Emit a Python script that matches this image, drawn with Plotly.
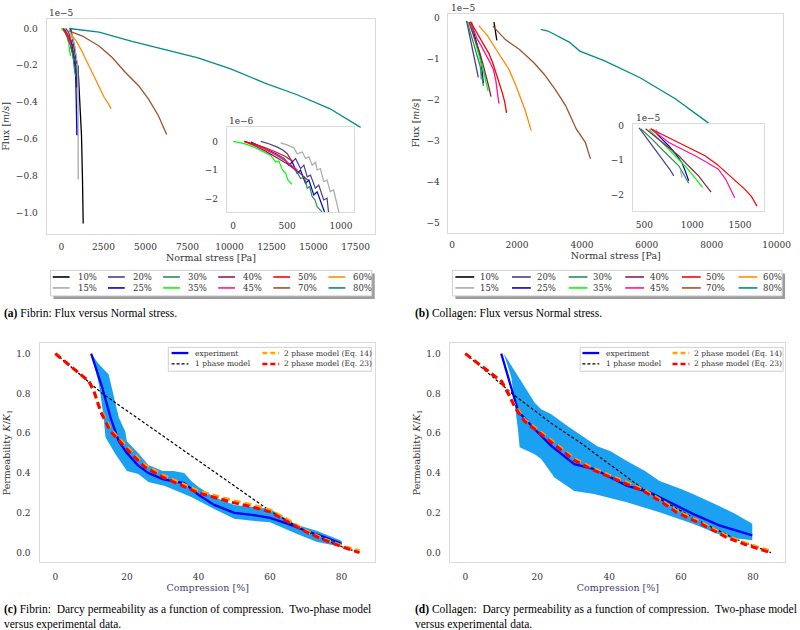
import plotly.graph_objects as go

W, H = 800, 630

# ---------------- data ----------------
LABELS = ["10%", "15%", "20%", "25%", "30%", "35%", "40%", "45%", "50%", "60%", "70%", "80%"]
COLORS = ["#000000", "#a9a9a9", "#483d8b", "#0000cd", "#2e8b57", "#00ff00",
          "#8b2252", "#ff1493", "#ff0000", "#ff8c00", "#a0522d", "#008b8b"]
INSET_LABELS = ["15%", "20%", "25%", "30%", "35%", "40%", "45%", "50%"]

# Fibrin: normal stress [Pa] and flux [1e-6 m/s]
fib_p_10 = [510, 570, 770, 900, 985, 1060, 1195, 1255, 1296]
fib_q_10 = [0.0, -0.1, -1.1, -1.85, -2.05, -3.3, -5.8, -8.2, -10.6]
fib_p_15 = [440, 500, 564, 594, 641, 671, 702, 733, 765, 779, 809, 840, 871, 901, 932, 963, 979, 990, 1000]
fib_q_15 = [-0.05, -0.12, -0.23, -0.43, -0.37, -0.60, -0.54, -0.83, -0.72, -1.0, -0.95, -1.41, -1.35, -1.76, -1.70, -2.22, -2.45, -4.5, -8.2]
fib_p_20 = [256, 330, 410, 460, 502, 548, 579, 625, 656, 687, 717, 763, 794, 840, 871, 892, 905]
fib_q_20 = [0.0, -0.08, -0.2, -0.3, -0.43, -0.72, -0.60, -0.95, -0.83, -1.24, -1.18, -1.64, -1.53, -2.05, -1.99, -2.43, -3.2]
fib_p_25 = [164, 240, 318, 395, 472, 518, 548, 594, 625, 671, 702, 748, 779, 825, 846, 880, 920]
fib_q_25 = [-0.02, -0.15, -0.31, -0.43, -0.60, -0.83, -0.72, -1.12, -1.0, -1.47, -1.35, -1.87, -1.76, -2.28, -2.45, -3.8, -5.8]
fib_p_30 = [195, 270, 348, 410, 472, 520, 564, 600, 625, 660, 687, 710, 733, 760, 779, 816, 840]
fib_q_30 = [-0.08, -0.2, -0.37, -0.48, -0.60, -0.82, -0.95, -1.12, -1.3, -1.25, -1.64, -1.58, -1.93, -2.05, -2.28, -2.43, -2.6]
fib_p_35 = [0, 103, 195, 288, 348, 395, 425, 456, 487, 508, 539, 545]
fib_q_35 = [0.0, -0.08, -0.2, -0.37, -0.49, -0.72, -0.69, -1.0, -1.12, -1.35, -1.47, -1.5]
fib_p_40 = [100, 200, 300, 400, 500, 600, 690]
fib_q_40 = [0.0, -0.15, -0.34, -0.55, -0.78, -1.05, -1.35]
fib_p_45 = [110, 200, 300, 400, 500, 596]
fib_q_45 = [0.0, -0.12, -0.28, -0.48, -0.72, -1.0]
fib_p_50 = [105, 200, 300, 400, 480, 550]
fib_q_50 = [0.0, -0.1, -0.22, -0.38, -0.52, -0.69]
fib_p_60 = [550, 900, 1200, 1550, 1800, 2040, 2300, 2550, 2800, 2960]
fib_q_60 = [-0.3, -0.7, -1.2, -1.85, -2.3, -2.75, -3.3, -3.75, -4.1, -4.37]
fib_p_70 = [471, 1256, 2238, 3023, 3809, 4594, 5183, 5772, 6262]
fib_q_70 = [-0.14, -0.41, -0.95, -1.58, -2.39, -3.11, -3.84, -4.74, -5.76]
fib_p_80 = [470, 2240, 4200, 6000, 8130, 10070, 12070, 14020, 15960, 17800]
fib_q_80 = [0.0, -0.2, -0.7, -1.13, -1.6, -2.2, -2.95, -3.6, -4.35, -5.37]

# Collagen: normal stress [Pa] and flux [1e-6 m/s]
col_p_10 = [1290, 1320, 1350, 1377]
col_q_10 = [-1.0, -2.5, -4.0, -5.5]
col_p_15 = [620, 640, 660, None, 877, 885, 894]
col_q_15 = [-1.1, -2.0, -3.0, None, -13.0, -14.0, -15.0]
col_p_20 = [445, 530, 617, 670, 720, 765, 807]
col_q_20 = [-0.7, -3.8, -6.9, -8.8, -10.7, -12.6, -14.5]
col_p_25 = [583, 670, 756, 830, 893, 930, 963]
col_q_25 = [-1.1, -3.5, -5.9, -8.3, -10.7, -13.3, -15.9]
col_p_30 = [462, 580, 686, 770, 859, 910, 963]
col_q_30 = [-0.94, -3.9, -6.9, -9.3, -11.6, -14.0, -16.6]
col_p_35 = [549, 700, 859, 930, 997, 1050, 1108]
col_q_35 = [-1.1, -5.3, -9.7, -11.8, -14.0, -15.9, -17.8]
col_p_40 = [513, 690, 859, 960, 1066, 1130, 1197]
col_q_40 = [-0.94, -4.8, -8.7, -11.6, -14.5, -16.8, -19.2]
col_p_45 = [565, 756, 900, 1031, 1150, 1273, 1350, 1411, 1445]
col_q_45 = [-0.94, -4.9, -6.9, -8.7, -10.6, -12.6, -15.5, -19.2, -20.9]
col_p_50 = [565, 756, 859, 1000, 1134, 1260, 1377, 1470, 1548, 1620, 1677]
col_q_50 = [-0.94, -3.5, -5.1, -6.9, -8.7, -11.2, -14.0, -16.2, -18.3, -20.5, -23.2]
col_p_60 = [820, 1092, 1420, 1748, 1968, 2240, 2437]
col_q_60 = [-1.9, -4.4, -8.5, -12.5, -16.6, -22.3, -27.5]
col_p_70 = [1256, 1640, 2076, 2513, 2841, 3169, 3497, 3825, 4100, 4264]
col_q_70 = [-2.0, -5.3, -7.7, -10.9, -13.8, -17.4, -21.4, -27.1, -30.3, -34.4]
col_p_80 = [2732, 2952, 3608, 3936, 4700, 5793, 6888, 7872, 8636, 9300]
col_q_80 = [-2.8, -3.2, -5.9, -8.1, -10.5, -14.6, -19.8, -25.5, -30.3, -34.5]

# Fibrin permeability (compression [%], K/K1)
fib_exp_x = [10, 13.1, 15.4, 17.7, 20, 23, 26, 30, 34, 36, 38, 40, 44.4, 50, 55, 60, 65, 70, 75, 80]
fib_exp_y = [1.0, 0.83, 0.68, 0.56, 0.50, 0.44, 0.40, 0.37, 0.355, 0.35, 0.32, 0.29, 0.24, 0.20, 0.19, 0.175, 0.145, 0.11, 0.08, 0.045]
fib_up_x = [10, 12, 14.9, 16.3, 17.7, 19.5, 20, 23.2, 26, 30, 33, 36, 38, 40, 44.4, 50, 55, 60, 67.4, 73, 80]
fib_up_y = [1.0, 0.95, 0.895, 0.78, 0.68, 0.61, 0.56, 0.50, 0.44, 0.41, 0.41, 0.40, 0.36, 0.33, 0.28, 0.24, 0.23, 0.22, 0.14, 0.11, 0.06]
fib_lo_x = [10, 12.2, 13.5, 14, 16.8, 20, 23.2, 26, 30.6, 34.2, 38, 44.4, 50, 55, 60, 67.4, 73, 80]
fib_lo_y = [1.0, 0.845, 0.68, 0.58, 0.495, 0.41, 0.395, 0.355, 0.335, 0.31, 0.28, 0.22, 0.17, 0.16, 0.153, 0.095, 0.055, 0.028]
fib_one_x = [0, 13.1, 60, 70, 80, 85]
fib_one_y = [1.0, 0.80, 0.21, 0.105, 0.03, 0.0]
fib_two_x = [0, 9.4, 10.8, 12.6, 15.4, 18.6, 20, 25, 30, 35, 40, 45, 50, 55, 60, 65, 70, 75, 80, 85]
fib_eq14_y = [1.0, 0.86, 0.81, 0.72, 0.62, 0.555, 0.53, 0.44, 0.39, 0.35, 0.31, 0.285, 0.26, 0.24, 0.215, 0.165, 0.11, 0.07, 0.035, 0.01]
fib_eq23_y = [1.0, 0.86, 0.81, 0.71, 0.61, 0.545, 0.52, 0.43, 0.38, 0.34, 0.30, 0.275, 0.25, 0.23, 0.205, 0.155, 0.105, 0.065, 0.03, 0.0]

# Collagen permeability
col_exp_x = [10, 13.3, 14.7, 19.3, 23.9, 30.3, 35.8, 44.9, 51.3, 55.9, 63.3, 70.6, 79.8]
col_exp_y = [1.0, 0.795, 0.71, 0.62, 0.537, 0.445, 0.42, 0.337, 0.303, 0.262, 0.195, 0.137, 0.087]
col_up_x = [10.7, 13.8, 17.4, 19.3, 21.1, 23.9, 28.5, 33, 36.7, 40.4, 44.9, 50, 54, 60, 63.3, 70, 75, 79.8]
col_up_y = [1.0, 0.91, 0.81, 0.753, 0.72, 0.695, 0.635, 0.58, 0.535, 0.51, 0.46, 0.41, 0.36, 0.32, 0.295, 0.24, 0.195, 0.145]
col_lo_x = [10.7, 12.8, 14.7, 15.1, 19.3, 21.1, 24.8, 30.3, 35.8, 44.9, 54, 63.3, 72.5, 79.8]
col_lo_y = [1.0, 0.88, 0.61, 0.53, 0.495, 0.47, 0.378, 0.31, 0.295, 0.253, 0.203, 0.145, 0.078, 0.062]
col_one_x = [0, 13.3, 23.9, 32.2, 40.4, 48.7, 55, 65, 75, 85]
col_one_y = [1.0, 0.795, 0.65, 0.55, 0.44, 0.33, 0.26, 0.16, 0.07, 0.0]
col_two_x = [0, 10.1, 11.9, 13.8, 16.5, 21.1, 28.5, 30.3, 35, 40.4, 45, 49.5, 55, 58.7, 65, 72.5, 78, 84.4]
col_eq14_y = [1.0, 0.86, 0.805, 0.738, 0.668, 0.603, 0.498, 0.473, 0.428, 0.386, 0.353, 0.318, 0.258, 0.211, 0.158, 0.086, 0.048, 0.011]
col_eq23_y = [1.0, 0.86, 0.80, 0.73, 0.66, 0.595, 0.49, 0.465, 0.42, 0.378, 0.345, 0.31, 0.25, 0.203, 0.15, 0.078, 0.04, 0.003]

FIB_P = [fib_p_10, fib_p_15, fib_p_20, fib_p_25, fib_p_30, fib_p_35, fib_p_40, fib_p_45, fib_p_50, fib_p_60, fib_p_70, fib_p_80]
FIB_Q = [fib_q_10, fib_q_15, fib_q_20, fib_q_25, fib_q_30, fib_q_35, fib_q_40, fib_q_45, fib_q_50, fib_q_60, fib_q_70, fib_q_80]
COL_P = [col_p_10, col_p_15, col_p_20, col_p_25, col_p_30, col_p_35, col_p_40, col_p_45, col_p_50, col_p_60, col_p_70, col_p_80]
COL_Q = [col_q_10, col_q_15, col_q_20, col_q_25, col_q_30, col_q_35, col_q_40, col_q_45, col_q_50, col_q_60, col_q_70, col_q_80]

BAND = "#1ba1f2"
FONT = "DejaVu Serif"
CAP_FONT = "Liberation Serif"
TXT = "#333333"


def scaled(vals, factor):
    return [None if v is None else v * factor for v in vals]


def px(x):
    return x / W


def py(y):
    return 1 - y / H


fig = go.Figure()

# ---- (a) fibrin main (xy) and inset (x2y2) ----
for lab, col, p, q in zip(LABELS, COLORS, FIB_P, FIB_Q):
    fig.add_trace(go.Scatter(x=p, y=scaled(q, 0.1), mode="lines", name=lab,
                             line=dict(color=col, width=1.3), showlegend=False,
                             xaxis="x", yaxis="y"))
for lab, col, p, q in zip(LABELS, COLORS, FIB_P, FIB_Q):
    if lab in INSET_LABELS:
        fig.add_trace(go.Scatter(x=p, y=q, mode="lines", name=lab,
                                 line=dict(color=col, width=1.2), showlegend=False,
                                 xaxis="x2", yaxis="y2"))
# ---- (b) collagen main (x3y3) and inset (x4y4) ----
for lab, col, p, q in zip(LABELS, COLORS, COL_P, COL_Q):
    fig.add_trace(go.Scatter(x=p, y=scaled(q, 0.1), mode="lines", name=lab,
                             line=dict(color=col, width=1.3), showlegend=False,
                             xaxis="x3", yaxis="y3"))
for lab, col, p, q in zip(LABELS, COLORS, COL_P, COL_Q):
    if lab in INSET_LABELS:
        fig.add_trace(go.Scatter(x=p, y=scaled(q, 0.1), mode="lines", name=lab,
                                 line=dict(color=col, width=1.2), showlegend=False,
                                 xaxis="x4", yaxis="y4"))


def perm_panel(xa, ya, ux, uy, lx, ly, ex, ey, ox, oy, tx, t14, t23):
    fig.add_trace(go.Scatter(x=ux, y=uy, mode="lines", line=dict(width=0, color=BAND),
                             showlegend=False, xaxis=xa, yaxis=ya, hoverinfo="skip"))
    fig.add_trace(go.Scatter(x=lx, y=ly, mode="lines", line=dict(width=0, color=BAND),
                             fill="tonexty", fillcolor=BAND, showlegend=False,
                             xaxis=xa, yaxis=ya, hoverinfo="skip"))
    fig.add_trace(go.Scatter(x=ex, y=ey, mode="lines", name="experiment",
                             line=dict(color="#0000ff", width=2.3), showlegend=False,
                             xaxis=xa, yaxis=ya))
    fig.add_trace(go.Scatter(x=ox, y=oy, mode="lines", name="1 phase model",
                             line=dict(color="#000000", width=1.2, dash="3px,2px"),
                             showlegend=False, xaxis=xa, yaxis=ya))
    fig.add_trace(go.Scatter(x=tx, y=t14, mode="lines", name="2 phase model (Eq. 14)",
                             line=dict(color="#ffa500", width=3, dash="7px,4px"),
                             showlegend=False, xaxis=xa, yaxis=ya))
    fig.add_trace(go.Scatter(x=tx, y=t23, mode="lines", name="2 phase model (Eq. 23)",
                             line=dict(color="#ff0000", width=3, dash="7px,4px"),
                             showlegend=False, xaxis=xa, yaxis=ya))


perm_panel("x5", "y5", fib_up_x, fib_up_y, fib_lo_x, fib_lo_y, fib_exp_x, fib_exp_y,
           fib_one_x, fib_one_y, fib_two_x, fib_eq14_y, fib_eq23_y)
perm_panel("x6", "y6", col_up_x, col_up_y, col_lo_x, col_lo_y, col_exp_x, col_exp_y,
           col_one_x, col_one_y, col_two_x, col_eq14_y, col_eq23_y)


def axis(domain, rng, tickvals, anchor, title=None, fmt=None, standoff=4, tsize=9,
         title_standoff=3, title_color=TXT):
    d = dict(domain=domain, range=rng, tickvals=tickvals, anchor=anchor,
             showgrid=False, zeroline=False, showline=True, mirror=True,
             linecolor="#dadada", linewidth=1, ticks="",
             ticklabelstandoff=standoff,
             tickfont=dict(family=FONT, size=tsize, color=TXT))
    if fmt:
        d["tickformat"] = fmt
    if title:
        d["title"] = dict(text=title, font=dict(family=FONT, size=9.5, color=title_color),
                          standoff=title_standoff)
    return d


layout = dict(
    width=W, height=H, margin=dict(l=0, r=0, t=0, b=0),
    paper_bgcolor="white", plot_bgcolor="white", showlegend=False,
    xaxis=axis([px(47), px(379)], [-885, 18670], list(range(0, 17501, 2500)), "y",
               "Normal stress [Pa]", fmt="d", standoff=4, title_standoff=2),
    yaxis=axis([py(232), py(16)], [-1.116, 0.052], [0, -0.2, -0.4, -0.6, -0.8, -1.0], "x",
               "Flux [<i>m</i>/<i>s</i>]", fmt=".1f", standoff=6, title_standoff=5),
    xaxis2=axis([px(229), px(358)], [-60, 1125], [0, 500, 1000], "y2", fmt="d", standoff=5),
    yaxis2=axis([py(210), py(125)], [-2.47, 0.49], [0, -1, -2], "x2", fmt="d", standoff=6),
    xaxis3=axis([px(453), px(791)], [-113, 10200], list(range(0, 10001, 2000)), "y3",
                "Normal stress [Pa]", fmt="d", standoff=4, title_standoff=2),
    yaxis3=axis([py(230.7), py(10.7)], [-5.24, 0.104], [0, -1, -2, -3, -4, -5], "x3",
                "Flux [<i>m</i>/<i>s</i>]", fmt="d", standoff=6, title_standoff=5),
    xaxis4=axis([px(639.3), px(771.7)], [380, 1750], [500, 1000, 1500], "y4", fmt="d",
                standoff=5),
    yaxis4=axis([py(209.3), py(121.7)], [-2.47, 0.04], [0, -1, -2], "x4", fmt="d", standoff=6),
    xaxis5=axis([px(40.7), px(379)], [-4.22, 89.4], [0, 20, 40, 60, 80], "y5",
                "Compression [%]", standoff=6, title_standoff=2, title_color="#3f3f6e"),
    yaxis5=axis([py(561.7), py(341.7)], [-0.047, 1.053], [0, 0.2, 0.4, 0.6, 0.8, 1.0], "x5",
                "Permeability <i>K</i>/<i>K</i><sub>1</sub>", fmt=".1f", standoff=7,
                title_standoff=3),
    xaxis6=axis([px(455), px(793.3)], [-4.13, 89], [0, 20, 40, 60, 80], "y6",
                "Compression [%]", standoff=6, title_standoff=2, title_color="#3f3f6e"),
    yaxis6=axis([py(561.7), py(341.7)], [-0.047, 1.053], [0, 0.2, 0.4, 0.6, 0.8, 1.0], "x6",
                "Permeability <i>K</i>/<i>K</i><sub>1</sub>", fmt=".1f", standoff=7,
                title_standoff=3),
)
fig.update_layout(**layout)

shapes = []
annotations = []


def text(x, y, s, size=9, xanchor="left", yanchor="middle", family=FONT, color=TXT):
    annotations.append(dict(x=px(x), y=py(y), xref="paper", yref="paper", text=s,
                            showarrow=False, xanchor=xanchor, yanchor=yanchor, align="left",
                            font=dict(family=family, size=size, color=color)))


def box(x0, y0, x1, y1, shadow=False):
    if shadow:
        shapes.append(dict(type="rect", xref="paper", yref="paper",
                           x0=px(x0 + 3), x1=px(x1 + 3), y0=py(y0 + 3), y1=py(y1 + 3),
                           fillcolor="rgba(90,90,90,0.6)", line=dict(width=0), layer="above"))
    shapes.append(dict(type="rect", xref="paper", yref="paper",
                       x0=px(x0), x1=px(x1), y0=py(y0), y1=py(y1),
                       fillcolor="white", line=dict(color="#cfcfcf", width=1), layer="above"))


def entry(x0, x1, y, tx, color, label, width=1.5, dash="solid", size=8):
    shapes.append(dict(type="line", xref="paper", yref="paper",
                       x0=px(x0), x1=px(x1), y0=py(y), y1=py(y),
                       line=dict(color=color, width=width, dash=dash), layer="above"))
    text(tx, y, label, size=size)


# offset texts
text(47, 10, "1e\u22125", size=9, yanchor="middle")
text(229, 119, "1e\u22126", size=9)
text(454, 5.5, "1e\u22125", size=9)
text(640, 116, "1e\u22125", size=9)

# legends (a) and (b)
order = [(0, 0), (0, 1), (1, 0), (1, 1), (2, 0), (2, 1), (3, 0), (3, 1), (4, 0), (5, 0), (4, 1), (5, 1)]
box(51, 268.7, 375.5, 294.3, shadow=True)
for (c, r), lab, colr in zip(order, LABELS, COLORS):
    x0 = 53.3 + 55.7 * c
    entry(x0, x0 + 17, 275.3 + 11 * r, x0 + 23, colr, lab, width=1.6, size=8.5)
box(457, 268.7, 790, 294.3, shadow=True)
for (c, r), lab, colr in zip(order, LABELS, COLORS):
    x0 = 460 + 57.2 * c
    entry(x0, x0 + 19, 275.3 + 11 * r, x0 + 22.7, colr, lab, width=1.6, size=8.5)

# legends (c) and (d)
for bx, c1, c2 in [(170, 173.3, 265), (586, 588.3, 679.3)]:
    box(bx, 346, bx + 205, 370)
    entry(c1, c1 + 17, 351.7, c1 + 22, "#0000ff", "experiment", width=2.3, size=7.5)
    entry(c1, c1 + 17, 362.7, c1 + 22, "#000000", "1 phase model", width=1.3,
          dash="3px,2px", size=7.5)
    entry(c2, c2 + 17, 351.7, c2 + 20, "#ffa500", "2 phase model (Eq. 14)", width=2.6,
          dash="5px,3px", size=7.5)
    entry(c2, c2 + 17, 362.7, c2 + 20, "#ff0000", "2 phase model (Eq. 23)", width=2.6,
          dash="5px,3px", size=7.5)

# captions
text(2, 311.7, "<b>(a)</b> Fibrin: Flux versus Normal stress.", size=11.5, family=CAP_FONT,
     color="#000000")
text(416.7, 311.7, "<b>(b)</b> Collagen: Flux versus Normal stress.", size=11.5,
     family=CAP_FONT, color="#000000")
text(2, 601, "<b>(c)</b> Fibrin:  Darcy permeability as a function of compression.  "
     "Two-phase model<br>versus experimental data.", size=11.5, family=CAP_FONT,
     color="#000000", yanchor="top")
text(416.7, 601, "<b>(d)</b> Collagen:  Darcy permeability as a function of compression.  "
     "Two-phase model<br>versus experimental data.", size=11.5, family=CAP_FONT,
     color="#000000", yanchor="top")

fig.update_layout(shapes=shapes, annotations=annotations)
fig.write_html("out.html", config={"displayModeBar": False},
               post_script="document.body.style.margin='0';"
                           "document.body.style.overflow='hidden';")
